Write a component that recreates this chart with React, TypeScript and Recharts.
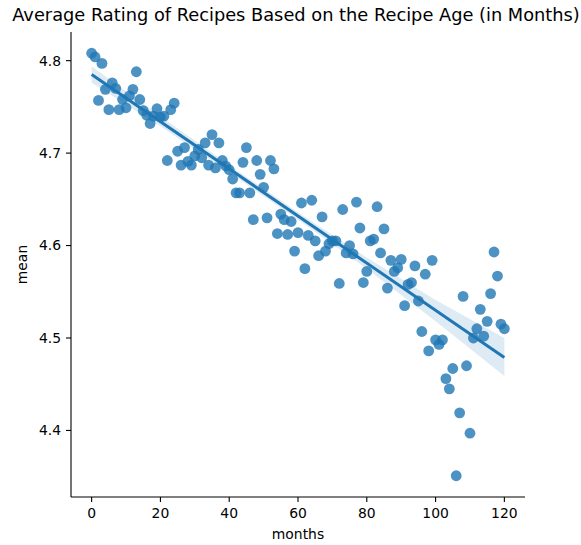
import React from "react";
import {
  ComposedChart,
  Scatter,
  Line,
  Area,
  XAxis,
  YAxis,
  Label,
} from "recharts";

// Recipe age in months
const months: number[] = Array.from({ length: 121 }, (_, i) => i);

// Mean rating per month
const means: number[] = [
  4.808, 4.804, 4.757, 4.797, 4.769, 4.747, 4.776, 4.770, 4.747, 4.758,
  4.749, 4.762, 4.769, 4.788, 4.758, 4.746, 4.741, 4.732, 4.740, 4.748,
  4.739, 4.740, 4.692, 4.747, 4.754, 4.702, 4.687, 4.706, 4.691, 4.687,
  4.697, 4.704, 4.695, 4.711, 4.687, 4.720, 4.684, 4.711, 4.692, 4.686,
  4.682, 4.672, 4.657, 4.657, 4.690, 4.706, 4.657, 4.628, 4.692, 4.677,
  4.663, 4.630, 4.692, 4.683, 4.613, 4.634, 4.628, 4.612, 4.626, 4.594,
  4.614, 4.646, 4.575, 4.611, 4.649, 4.605, 4.589, 4.631, 4.594, 4.602,
  4.605, 4.605, 4.559, 4.639, 4.592, 4.600, 4.591, 4.647, 4.619, 4.560,
  4.572, 4.605, 4.607, 4.642, 4.592, 4.618, 4.554, 4.584, 4.572, 4.576,
  4.585, 4.535, 4.558, 4.560, 4.578, 4.540, 4.507, 4.569, 4.486, 4.584,
  4.498, 4.493, 4.498, 4.456, 4.445, 4.467, 4.351, 4.419, 4.545, 4.470,
  4.397, 4.500, 4.510, 4.531, 4.502, 4.518, 4.548, 4.593, 4.567, 4.515,
  4.510,
];

// Regression line
const fitX: number[] = [0, 120];
const fitY: number[] = [4.785, 4.479];

// Confidence band
const bandX: number[] = [0, 20, 40, 60, 80, 100, 120];
const bandLow: number[] = [4.776, 4.729, 4.679, 4.628, 4.575, 4.518, 4.459];
const bandHigh: number[] = [4.794, 4.740, 4.687, 4.636, 4.587, 4.541, 4.500];

const xTicks: number[] = [0, 20, 40, 60, 80, 100, 120];
const yTicks: number[] = [4.4, 4.5, 4.6, 4.7, 4.8];

const scatterData = months.map((m, i) => ({ x: m, y: means[i] }));
const lineData = fitX.map((x, i) => ({ x, y: fitY[i] }));
const bandData = bandX.map((x, i) => ({ x, band: [bandLow[i], bandHigh[i]] }));

const BLUE = "#1f77b4";
const FONT = "DejaVu Sans, Liberation Sans, sans-serif";

const Dot = (props: any) => {
  const { cx, cy } = props;
  if (cx == null || cy == null) return null;
  return <circle cx={cx} cy={cy} r={5.4} fill={BLUE} fillOpacity={0.8} />;
};

export default function App() {
  return (
    <div style={{ position: "absolute", left: 0, top: 0, width: 581, height: 545, background: "#fff" }}>
      <ComposedChart
        width={581}
        height={545}
        margin={{ top: 32, right: 56, bottom: 0, left: 0 }}
        style={{ fontFamily: FONT }}
      >
        <text
          x={296}
          y={21}
          textAnchor="middle"
          fontSize={17.8}
          fill="#000"
          fontFamily={FONT}
        >
          Average Rating of Recipes Based on the Recipe Age (in Months)
        </text>
        <XAxis
          type="number"
          dataKey="x"
          domain={[-6, 126]}
          ticks={xTicks}
          allowDataOverflow
          height={48}
          tickSize={5}
          tickMargin={6}
          stroke="#000"
          strokeWidth={1.1}
          tick={{ fill: "#000", fontSize: 13.9, fontFamily: FONT }}
          tickLine={{ stroke: "#000", strokeWidth: 1.1 }}
        >
          <Label
            value="months"
            position="insideBottom"
            offset={6}
            style={{ fill: "#000", fontSize: 13.9, fontFamily: FONT }}
          />
        </XAxis>
        <YAxis
          type="number"
          dataKey="y"
          domain={[4.328, 4.831]}
          ticks={yTicks}
          allowDataOverflow
          width={71}
          tickSize={5}
          tickMargin={5}
          stroke="#000"
          strokeWidth={1.1}
          tick={{ fill: "#000", fontSize: 13.9, fontFamily: FONT }}
          tickLine={{ stroke: "#000", strokeWidth: 1.1 }}
          tickFormatter={(v: number) => v.toFixed(1)}
        >
          <Label
            value="mean"
            angle={-90}
            position="insideLeft"
            offset={22}
            style={{ fill: "#000", fontSize: 13.9, fontFamily: FONT, textAnchor: "middle" }}
          />
        </YAxis>
        <Scatter
          data={scatterData}
          dataKey="y"
          shape={<Dot />}
          isAnimationActive={false}
        />
        <Area
          data={bandData}
          dataKey="band"
          type="linear"
          stroke="none"
          fill={BLUE}
          fillOpacity={0.15}
          isAnimationActive={false}
          dot={false}
          activeDot={false}
        />
        <Line
          data={lineData}
          dataKey="y"
          type="linear"
          stroke={BLUE}
          strokeWidth={3}
          dot={false}
          activeDot={false}
          isAnimationActive={false}
        />
      </ComposedChart>
    </div>
  );
}
